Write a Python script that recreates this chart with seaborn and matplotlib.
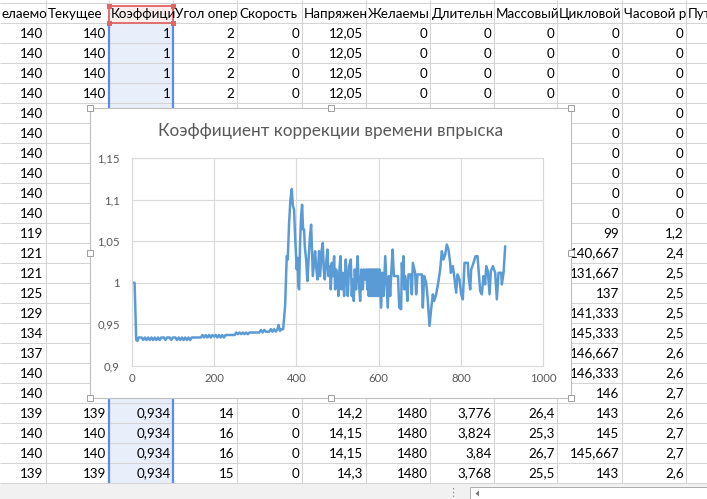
import matplotlib
matplotlib.use("Agg")
import matplotlib.pyplot as plt
from matplotlib.patches import Rectangle, Polygon
import pandas as pd
import seaborn as sns

# ---- sheet content (as shown in the cells, header texts cut as on screen) ----
headers = ["елаемо", "Текущее", "Коэффици", "Угол опер", "Скорость", "Напряжен",
           "Желаемы", "Длительн", "Массовый", "Цикловой", "Часовой р", "Пут"]

col_zhel = ["140"] * 10 + ["119", "121", "121", "125", "129", "134", "137", "140", "140",
                           "139", "140", "140", "139"]
# values of this column under the chart are hidden
col_tek = ["140"] * 4 + [""] * 15 + ["139", "140", "140", "139"]
col_koef = ["1"] * 4 + [""] * 15 + ["0,934", "0,934", "0,934", "0,934"]
col_ugol = ["2"] * 4 + [""] * 15 + ["14", "16", "16", "15"]
col_skor = ["0"] * 4 + [""] * 15 + ["0", "0", "0", "0"]
col_napr = ["12,05"] * 4 + [""] * 15 + ["14,2", "14,15", "14,15", "14,3"]
col_zhras = ["0"] * 4 + [""] * 15 + ["1480", "1480", "1480", "1480"]
col_dlit = ["0"] * 4 + [""] * 15 + ["3,776", "3,824", "3,84", "3,768"]
col_mass = ["0"] * 4 + [""] * 15 + ["26,4", "25,3", "26,7", "25,5"]
col_cikl = ["0"] * 10 + ["99", "140,667", "131,667", "137", "141,333", "145,333", "146,667",
                         "146,333", "146", "143", "145", "145,667", "143"]
col_chas = ["0"] * 10 + ["1,2", "2,4", "2,5", "2,5", "2,5", "2,5", "2,6", "2,6", "2,7",
                         "2,6", "2,7", "2,7", "2,6"]
columns = [col_zhel, col_tek, col_koef, col_ugol, col_skor, col_napr, col_zhras,
           col_dlit, col_mass, col_cikl, col_chas]

# ---- chart series ----
chart_title = "Коэффициент коррекции времени впрыска"
x_idx = [0, 7, 11, 14, 17, 24, 28, 32, 36, 40, 44, 48, 52, 56, 60, 64, 68, 72, 78, 82, 86, 92,
         96, 100, 106, 110, 114, 118, 122, 126, 130, 134, 138, 142, 146, 160, 168, 172, 176,
         180, 184, 188, 192, 196, 200, 204, 208, 212, 216, 220, 224, 228, 250, 254, 258, 262,
         266, 270, 274, 278, 282, 286, 310, 314, 318, 322, 326, 334, 338, 342, 346, 350, 354,
         357, 360, 364, 368,
         372.7, 376.7, 379.1, 382.4, 385.6, 388.9, 391.3, 394.5, 397, 399.4, 401, 403, 405,
         406.7, 409.1, 411.5, 414, 416.4, 418.8, 420.5, 423.7, 426.9, 430.2, 433.4, 435.9,
         438.3, 439.9,
         445.6, 448, 451.3, 455.3, 457.7, 461.8, 464.2, 466.6, 469.1, 472.3, 475.6, 478, 482,
         483.7, 486.1, 488.5, 491.8, 494.2, 496.6, 499.9, 502.3, 504.7, 507.2, 509.6, 512.8,
         516.1, 520.1, 522.6, 525, 528.2, 532.3, 534.7, 537.1, 539.6, 542, 545.2, 548.5,
         551.7, 555, 558.2, 561.5, 563.9, 567.1, 569.6, 572.8,
         574, 576, 578, 580, 582, 584, 586, 588, 590, 592, 594, 596, 598, 600, 602,
         606, 609, 612, 616, 619, 622, 625, 628, 631, 634, 637, 647, 650, 654.6,
         656.3, 658.5, 660.3, 661.9, 664, 666.8, 670, 672.5, 678.1, 680.6, 683, 688.7, 691.1,
         694.3, 704.9, 707.3, 710.6, 715.4, 718.6, 723.5, 727.5, 731.6, 734.8, 739.7, 745.4,
         749.4, 753.5, 757.5, 761.6, 765.6, 769.7, 773.7, 775.4, 780.2, 783.5, 788.3, 791.6,
         796.4, 800.5, 804.5, 808.6, 816.7, 818.3, 822.4, 824.8, 830.5, 835.3, 840.2, 843.4,
         846.7, 850.7, 854.8, 858.8, 861.3, 865.3, 869.4, 872.6, 877.5, 883.1, 887.2, 891.2,
         897.7, 899.3, 903.4, 907.4]
k_val = [1.0, 1.0, 0.931, 0.930, 0.934, 0.934, 0.931, 0.934, 0.931, 0.934, 0.931, 0.934, 0.931,
         0.934, 0.931, 0.934, 0.931, 0.934, 0.934, 0.931, 0.934, 0.934, 0.931, 0.934, 0.934,
         0.931, 0.934, 0.931, 0.934, 0.931, 0.934, 0.931, 0.934, 0.931, 0.934, 0.934, 0.934,
         0.937, 0.934, 0.937, 0.934, 0.937, 0.934, 0.937, 0.935, 0.937, 0.934, 0.937, 0.934,
         0.937, 0.934, 0.937, 0.937, 0.940, 0.938, 0.940, 0.938, 0.940, 0.938, 0.940, 0.938,
         0.940, 0.940, 0.943, 0.940, 0.943, 0.941, 0.941, 0.944, 0.941, 0.944, 0.941, 0.944,
         0.949, 0.942, 0.944, 0.944,
         0.972, 1.032, 1.028, 1.072, 1.100, 1.113, 1.094, 1.088, 1.056, 1.032, 1.016, 1.030,
         0.996, 0.992, 1.048, 1.080, 1.094, 1.064, 1.064, 1.044, 1.028, 1.002, 1.032, 1.058,
         1.070, 1.036, 1.008,
         1.038, 1.020, 1.004, 1.038, 1.008, 1.040, 1.048, 1.016, 1.004, 1.024, 1.040, 1.008,
         1.020, 0.992, 1.024, 1.008, 1.032, 0.992, 1.016, 1.004, 0.984, 1.016, 1.032, 0.992,
         1.012, 0.984, 1.028, 1.004, 0.984, 1.020, 1.028, 0.984, 1.004, 0.978, 1.016, 0.992,
         1.032, 1.004, 0.978, 1.016, 0.992, 1.016, 1.004, 1.016, 0.992,
         1.016, 0.984, 1.016, 0.984, 1.016, 0.984, 1.016, 0.984, 1.016, 0.984, 1.016, 0.984,
         1.016, 0.984, 1.016,
         0.970, 1.012, 0.984, 1.032, 1.000, 0.970, 1.008, 0.984, 1.016, 1.040, 1.008, 1.008,
         0.970, 0.968,
         1.024, 1.004, 1.032, 0.992, 1.008, 1.000, 0.978, 1.010, 1.010, 0.986, 1.024, 1.012,
         0.986, 1.010, 1.010, 0.970, 1.008, 1.000, 0.984, 0.948, 0.968, 0.986, 0.978, 0.986,
         1.002, 1.016, 1.038, 1.028, 1.034, 1.046, 1.040, 1.024, 1.012, 1.020, 1.008, 0.988,
         1.010, 1.004, 0.986, 0.980, 1.024, 1.024, 1.008, 0.992, 1.016, 1.024, 1.032, 1.032,
         1.012, 0.990, 0.986, 1.008, 0.998, 1.020, 1.014, 0.986, 1.014, 1.020, 1.012, 0.980,
         1.012, 1.012, 0.998, 1.012, 1.044]
y_ticks = [0.9, 0.95, 1.0, 1.05, 1.1, 1.15]
y_tick_labels = ["0,9", "0,95", "1", "1,05", "1,1", "1,15"]
x_ticks = [0, 200, 400, 600, 800, 1000]

# ---- layout in screen pixels ----
W, H = 707, 499
col_edges = [-1, 46, 109, 173, 237, 302, 366, 430, 494, 557, 622, 686, 760]
row_top = 23
row_h = 20
n_rows = 23
sheet_bottom = row_top + row_h * n_rows
chart_box = (90, 108, 571, 398)          # x0, y0, x1, y1 of the chart object
plot_box = (131.7, 158.3, 543.3, 365.7)  # plot area inside the chart

sns.set_style("white")
plt.rcParams["font.family"] = ["Lato", "DejaVu Sans"]
cell_fs = 9.6
grid_col = "#D4D4D4"

fig = plt.figure(figsize=(W / 100, H / 100), dpi=100)
bg = fig.add_axes([0, 0, 1, 1])
bg.set_xlim(0, W)
bg.set_ylim(H, 0)
bg.axis("off")

# selected column fill + header highlight
bg.add_patch(Rectangle((109, row_top), 64, row_h * n_rows, facecolor="#E8EEFA",
                       edgecolor="none", zorder=1))
bg.add_patch(Rectangle((109, 6), 64, 17, facecolor="#FDEEEE", edgecolor="none", zorder=1))

# sheet grid
bg.hlines([3] + [row_top + row_h * i for i in range(n_rows + 1)], 0, W,
          color=grid_col, lw=0.75, zorder=2)
bg.vlines(col_edges[1:-1], 0, sheet_bottom, color=grid_col, lw=0.75, zorder=2)

# blue range border of the series values
bg.vlines([109, 173], row_top, sheet_bottom, color="#5B8DE8", lw=1.6, zorder=3)
# red border of the series name
bg.add_patch(Rectangle((109, 6), 64, 17, facecolor="none", edgecolor="#E06666", lw=1.3,
                       zorder=4))
for hx in (109, 173):
    for hy in (6, 23):
        bg.add_patch(Rectangle((hx - 2.5, hy - 2.5), 5, 5, facecolor="#E06666",
                               edgecolor="none", zorder=4))

# header texts
for i, name in enumerate(headers):
    bg.text(col_edges[i] + 2, 13.5, name, ha="left", va="center", fontsize=cell_fs,
            color="black", zorder=5)

# cell values, right aligned
for i, col in enumerate(columns):
    x1 = col_edges[i + 1]
    for r, val in enumerate(col):
        if val:
            bg.text(x1 - 2.5, row_top + row_h * r + 10.5, val, ha="right", va="center",
                    fontsize=cell_fs, color="black", zorder=5)

# chart object
cx0, cy0, cx1, cy1 = chart_box
bg.add_patch(Rectangle((cx0, cy0), cx1 - cx0, cy1 - cy0, facecolor="white",
                       edgecolor="#BFBFBF", lw=0.8, zorder=10))
bg.text((cx0 + cx1) / 2, 131, chart_title, ha="center", va="center", fontsize=12.3,
        color="#595959", zorder=11)
for hx in (cx0, (cx0 + cx1) / 2, cx1):
    for hy in (cy0, (cy0 + cy1) / 2, cy1):
        if hx == (cx0 + cx1) / 2 and hy == (cy0 + cy1) / 2:
            continue
        bg.add_patch(Rectangle((hx - 3, hy - 3), 6, 6, facecolor="white",
                               edgecolor="#9E9E9E", lw=0.7, zorder=12))

# bottom strip with the horizontal scroll bar
bg.add_patch(Rectangle((0, sheet_bottom + 1), W, H - sheet_bottom, facecolor="#F1F1F1",
                       edgecolor="none", zorder=6))
bg.add_patch(Rectangle((470, 487), 250, 14, facecolor="white", edgecolor="#ABABAB",
                       lw=0.7, zorder=7))
bg.add_patch(Polygon([[479, 490.5], [479, 496.5], [475.5, 493.5]], closed=True,
                     facecolor="#7A7A7A", edgecolor="none", zorder=8))
bg.text(453, 493, "⋮", ha="center", va="center", fontsize=8, color="#8A8A8A",
        family="DejaVu Sans", zorder=8)

# the line chart itself
px0, py0, px1, py1 = plot_box
ax = fig.add_axes([px0 / W, 1 - py1 / H, (px1 - px0) / W, (py1 - py0) / H])
ax.set_zorder(5)
df = pd.DataFrame({"n": x_idx, "k": k_val})
sns.lineplot(data=df, x="n", y="k", ax=ax, color="#5B9BD5", linewidth=1.8,
             estimator=None, sort=False)
ax.set_xlim(0, 1000)
ax.set_ylim(0.9, 1.15)
ax.set_xticks(x_ticks)
ax.set_yticks(y_ticks)
ax.set_yticklabels(y_tick_labels)
ax.set_xlabel("")
ax.set_ylabel("")
ax.grid(True, color="#D9D9D9", lw=0.8)
ax.set_axisbelow(True)
for s in ax.spines.values():
    s.set_color("#D9D9D9")
    s.set_linewidth(0.8)
ax.tick_params(length=0, labelsize=8.2, colors="#595959")
ax.tick_params(axis="y", pad=8.6)
ax.tick_params(axis="x", pad=5.5)

fig.savefig("out.png", dpi=100)
